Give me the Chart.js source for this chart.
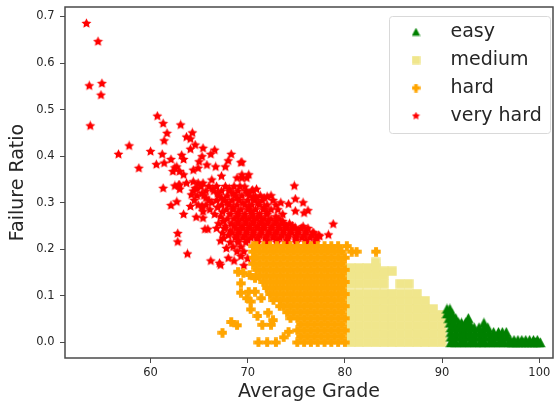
<!DOCTYPE html>
<html><head><meta charset="utf-8">
<style>html,body{margin:0;padding:0;background:#fff}#w{width:554px;height:405px}</style>
<script src="https://cdn.jsdelivr.net/npm/chart.js@4"></script></head>
<body><div id="w"><canvas id="c" width="554" height="405"></canvas></div>
<script>
const seriesNames = ['easy','medium','hard','very hard'];
const xTickValues = [60,70,80,90,100];
const yTickValues = [0,0.1,0.2,0.3,0.4,0.5,0.6,0.7];

const easyLevels = [0,0.005,0.012,0.022,0.032,0.042,0.052,0.062,0.072];
const easyGrades = [
 [90.9,91.4,91.9,92.4,92.9,93.4,93.9,94.4,94.9,95.4,95.9,96.4,96.9,97.2,97.5,97.8,98.1,98.4,98.7,99.0,99.3,99.6,99.9,100.1],
 [91.1,92.1,93.1,94.1,95.1,96.1,97.0,97.4,97.8,98.2,98.6,99.0,99.4,99.8],
 [90.9,91.4,91.9,92.4,92.9,93.4,93.9,94.4,94.9,95.4,95.8,96.2,96.7],
 [90.9,91.4,91.9,92.4,92.9,93.4,93.9,94.3,94.8,95.3,95.8,96.2,96.6],
 [90.9,91.3,91.7,92.1,92.5,92.9,93.3,93.8,94.3,94.7],
 [90.8,91.2,91.7,92.0,92.4,92.8,94.3],
 [90.7,91.1,91.4,92.7],
 [90.5,90.9,91.0],
 [90.5,90.8]
];
const mediumLevels = [0,0.018,0.036,0.054,0.06,0.072,0.09,0.105,0.126,0.144,0.153,0.16,0.172];
const mediumGrades = [
 [80.6,81.45,82.3,83.15,84,84.85,85.7,86.55,87.4,88.25,89.1,89.95],
 [80.6,81.45,82.3,83.15,84,84.85,85.7,86.55,87.4,88.25,89.1,89.95],
 [80.6,81.45,82.3,83.15,84,84.85,85.7,86.55,87.4,88.25,89.1,89.95],
 [80.6,81.45,82.3,83.15,84,84.85,85.7,86.55,87.4,88.25,89.1,89.95],
 [89.95],
 [80.6,81.45,82.3,83.15,84,84.85,85.7,86.55,87.4,88.25,89.1],
 [80.6,81.45,82.3,83.15,84,84.85,85.7,86.55,87.4,88.25],
 [80.6,81.45,82.3,83.15,84,84.85,85.7,86.55,87.4],
 [80.6,81.45,82.3,83.15,84,85.7,86.55],
 [80.6,81.45,82.3,83.15,84],
 [84,84.85],
 [80.6,81.45,82.3,83.15],
 [83.15]
];
const hardLevels = [0,0.011,0.013,0.021,0.023,0.026,0.037,0.038,0.039,0.044,0.048,0.052,0.057,0.064,0.065,0.071,0.078,0.088,0.091,0.095,0.104,0.107,0.109,0.117,0.127,0.13,0.138,0.143,0.145,0.149,0.152,0.156,0.169,0.182,0.195,0.207];
const hardGrades = [
 [71.1,72.0,72.9,75.1,75.8,76.5,77.2,77.9,78.6,79.3,80.0],
 [73.7],
 [75.45,76.15,76.85,77.55,78.25,78.95,79.65],
 [67.4],
 [74.2],
 [75.1,75.8,76.5,77.2,77.9,78.6,79.3,80.0],
 [68.9],
 [71.5,72.4],
 [75.45,76.15,76.85,77.55,78.25,78.95,79.65],
 [68.3],
 [72.6],
 [74.4,75.1,75.8,76.5,77.2,77.9,78.6,79.3,80.0],
 [71.0],
 [72.1],
 [74.05,74.75,75.45,76.15,76.85,77.55,78.25,78.95,79.65],
 [70.3],
 [73.3,73.7,74.4,75.1,75.8,76.5,77.2,77.9,78.6,79.3,80.0],
 [70.3],
 [72.65,73.35,74.05,74.75,75.45,76.15,76.85,77.55,78.25,78.95,79.65],
 [69.9,71.4],
 [72.3,73.0,73.7,74.4,75.1,75.8,76.5,77.2,77.9,78.6,79.3,80.0],
 [69.3],
 [70.1,70.75],
 [71.95,72.65,73.35,74.05,74.75,75.45,76.15,76.85,77.55,78.25,78.95,79.65],
 [69.3],
 [71.6,72.3,73.0,73.7,74.4,75.1,75.8,76.5,77.2,77.9,78.6,79.3,80.0],
 [70.75],
 [71.25,71.95,72.65,73.35,74.05,74.75,75.45,76.15,76.85,77.55,78.25,78.95,79.65],
 [70.2],
 [69.55],
 [69.0],
 [70.9,71.6,72.3,73.0,73.7,74.4,75.1,75.8,76.5,77.2,77.9,78.6,79.3,80.0],
 [70.55,71.25,71.95,72.65,73.35,74.05,74.75,75.45,76.15,76.85,77.55,78.25,78.95,79.65],
 [70.6,70.9,71.6,72.3,73.0,73.7,74.4,75.1,75.8,76.5,77.2,77.9,78.6,79.3,80.0],
 [70.55,71.25,71.95,72.65,73.35,74.05,74.75,75.45,76.15,76.85,77.55,78.25,78.95,79.65,80.7,81.2,83.2],
 [70.55,70.9,71.6,72.3,73.0,73.7,74.4,75.1,75.8,76.5,77.2,77.9,78.6,79.3,80.2]
];
const veryHardGrades = [53.4,54.6,53.7,55.0,54.9,53.8,56.7,57.8,58.8,60.0,60.7,61.3,63.1,61.7,61.4,64.3,63.7,64.1,64.6,64.1,65.4,61.2,60.6,61.4,62.1,63.2,63.4,66.6,66.2,68.3,68.0,67.7,69.3,65.3,65.0,64.9,64.4,65.8,66.7,62.7,63.0,63.4,62.5,62.3,67.3,61.3,62.9,68.9,69.4,69.9,64.9,66.3,63.7,65.4,64.4,62.5,63.0,63.0,62.7,62.1,63.4,62.8,62.8,63.8,66.2,67.2,64.7,65.4,65.9,65.6,67.2,67.5,67.8,68.0,67.1,64.1,65.4,65.3,64.2,64.6,
 69.4,70.1,69.4,74.8,74.9,75.7,74.2,74.9,76.2,75.8,73.4,72.0,70.9,70.5,70.8,69.7,78.8,78.3,77.4,76.7,75.7,74.9,74.0,69.6,70.0];
const veryHardRatios = [0.685,0.646,0.551,0.556,0.531,0.465,0.404,0.422,0.374,0.410,0.486,0.470,0.467,0.449,0.433,0.450,0.441,0.437,0.424,0.415,0.417,0.404,0.382,0.385,0.393,0.402,0.393,0.413,0.404,0.404,0.390,0.377,0.386,0.399,0.388,0.374,0.370,0.381,0.377,0.377,0.367,0.360,0.375,0.367,0.357,0.331,0.338,0.353,0.360,0.353,0.342,0.349,0.342,0.342,0.345,0.336,0.338,0.329,0.302,0.294,0.275,0.234,0.216,0.190,0.175,0.166,0.269,0.267,0.243,0.243,0.218,0.224,0.202,0.181,0.170,0.292,0.281,0.293,0.317,0.331,
 0.387,0.360,0.353,0.336,0.308,0.300,0.297,0.282,0.283,0.278,0.300,0.313,0.329,0.327,0.313,0.334,0.254,0.231,0.228,0.236,0.249,0.246,0.249,0.165,0.180];
const veryHardLevels = [0.335,0.33,0.325,0.32,0.315,0.31,0.305,0.30,0.295,0.29,0.285,0.28,0.275,0.27,0.265,0.26,0.255,0.25,0.245,0.24,0.235,0.23,0.225,0.22,0.215,0.205,0.195,0.185,0.175];
const veryHardRows = [
 [65.2,66.0,66.8,67.7,68.6,69.2],
 [64.8,66.4,68.1],
 [64.4,65.7,66.5,67.3,68.1,69.0,69.8,70.4],
 [65.3,66.9,68.5,70.0],
 [64.8,65.5,67.0,67.9,68.7,69.4,70.2,71.3,72.4],
 [65.7,67.3,68.9,70.6,71.7],
 [64.5,66.0,66.8,67.6,68.4,69.1,70.0,70.7,71.5,72.6],
 [66.3,67.9,69.5,71.1],
 [64.9,65.7,67.3,68.1,68.9,69.7,70.4,71.2,72.0,72.9],
 [65.3,66.9,68.5,70.1,71.7],
 [66.1,67.8,68.5,69.3,70.0,70.8,71.6,72.4,73.1],
 [67.4,69.0,70.4,72.0],
 [66.6,68.2,69.0,69.7,70.5,71.2,72.0,73.6],
 [67.2,68.9,69.7,70.5,71.3,72.9],
 [67.9,68.6,69.4,70.1,70.9,71.7,72.4,73.2],
 [67.5,69.0,69.8,70.6,71.4,72.1,72.9,73.6],
 [67.0,68.3,69.0,69.8,70.5,71.3,72.0,72.8,73.5,74.3],
 [67.7,68.6,69.4,70.2,71.0,71.7,72.5,73.2,73.9,74.6],
 [66.8,67.6,68.8,69.5,70.2,71.0,71.7,72.5,73.3,74.0,74.8,75.5,76.2],
 [68.2,69.1,69.9,70.6,71.4,72.2,73.0,73.7,74.4,75.2,76.0],
 [67.4,68.4,69.1,69.9,70.6,71.4,72.2,72.9,73.7,74.5,75.2,76.0,76.8],
 [68.0,68.9,69.7,70.5,71.2,72.0,72.7,73.5,74.2,75.0,75.8,76.6,77.3],
 [68.7,69.5,70.3,71.0,71.8,72.6,73.3,74.1,74.9,75.6,76.4,77.1],
 [69,70,71,72,73,74,75,76,77],
 [68.2,69.0,69.8,71.0,72.0,73.0,74.0,75.0,76.0,77.0],
 [68.5,69.3],
 [68.9,69.6],
 [69.3],
 [68.6]
];

function pointsFromRows(levels, rows){ return levels.flatMap((v,i)=>rows[i].map(x=>({x:x,y:v}))); }
function pointsFromPairs(xs, ys){ return xs.map((x,i)=>({x:x,y:ys[i]})); }

function marker(shape,color,size){
  const c=document.createElement('canvas'); c.width=c.height=size;
  const g=c.getContext('2d'); const m=size/2; const r=size/2-0.3;
  g.fillStyle=color; g.beginPath();
  if(shape==='tri'){ g.moveTo(m,m-r); g.lineTo(m+r,m+r*0.9); g.lineTo(m-r,m+r*0.9); }
  else if(shape==='sq'){ g.rect(m-r,m-r,2*r,2*r); }
  else if(shape==='plus'){ const a=r*0.42; const p=[[-a,-r],[a,-r],[a,-a],[r,-a],[r,a],[a,a],[a,r],[-a,r],[-a,a],[-r,a],[-r,-a],[-a,-a]];
    p.forEach((q,i)=>i?g.lineTo(m+q[0],m+q[1]):g.moveTo(m+q[0],m+q[1])); }
  else { for(let i=0;i<10;i++){ const R=i%2?r*0.5:r; const t=-Math.PI/2+i*Math.PI/5; const px=m+R*Math.cos(t),py=m+R*Math.sin(t); i?g.lineTo(px,py):g.moveTo(px,py);} }
  g.closePath(); g.fill(); return c;
}
const shapes=['tri','sq','plus','star'];
const colors=['green','#f0e68c','orange','red'];
const layering=[1,3,2,4];
const pointData=[pointsFromRows(easyLevels,easyGrades),pointsFromRows(mediumLevels,mediumGrades),pointsFromRows(hardLevels,hardGrades),pointsFromPairs(veryHardGrades,veryHardRatios).concat(pointsFromRows(veryHardLevels,veryHardRows))];
const plotStyles=shapes.map((s,i)=>marker(s,colors[i],[11,10,10,11][i]));
const legendStyles=shapes.map((s,i)=>marker(s,colors[i],9));

const ink='#262626', spine='#4a4a4a';
const font='"DejaVu Sans"';
const frame={id:'frame',
  afterLayout(ch){ const l=ch.legend; l.left=382; l.right=553; l.top=13.5; l.bottom=140; l.width=171; l.height=127; },
  afterDraw(ch){ const g=ch.ctx, a=ch.chartArea; g.save();
    g.strokeStyle=spine; g.lineWidth=1.5; g.strokeRect(a.left,a.top,a.right-a.left,a.bottom-a.top);
    g.strokeStyle='#d9d9d9'; g.lineWidth=1; g.beginPath(); g.roundRect(389.5,16.5,161,117,3); g.stroke(); g.restore(); }
};
function tickSet(vals){ return s=>{ s.ticks=vals.map(v=>({value:v})); }; }
function noPad(s){ s.paddingLeft=s.paddingRight=s.paddingTop=s.paddingBottom=0; }
new Chart(document.getElementById('c'),{type:'scatter',plugins:[frame],
 data:{datasets:seriesNames.map((n,i)=>({label:n,data:pointData[i],pointStyle:plotStyles[i],pointRadius:5,backgroundColor:colors[i],borderColor:colors[i],order:layering[i]}))},
 options:{responsive:false,animation:false,devicePixelRatio:1,
  layout:{autoPadding:false,padding:{top:7,right:1,left:0,bottom:0}},
  plugins:{tooltip:{enabled:false},
   legend:{position:'chartArea',align:'start',
    labels:{usePointStyle:true,pointStyleWidth:50,boxHeight:8,padding:9,color:ink,font:{family:font,size:19},
     sort:(a,b)=>a.datasetIndex-b.datasetIndex,
     generateLabels(ch){ return Chart.defaults.plugins.legend.labels.generateLabels(ch).map(it=>Object.assign(it,{pointStyle:legendStyles[it.datasetIndex]})); }}}},
  scales:{
   x:{type:'linear',min:51.2,max:101.41,afterBuildTicks:tickSet(xTickValues),afterFit(s){s.height=47;noPad(s);},
    border:{display:false},grid:{drawOnChartArea:false,tickLength:5,color:spine},
    ticks:{color:ink,font:{family:font,size:11.5},padding:3,maxRotation:0,callback:v=>String(v)},
    title:{display:true,text:'Average Grade',color:ink,font:{family:font,size:19},padding:{top:6,bottom:1.6}}},
   y:{type:'linear',min:-0.0333,max:0.7203,afterBuildTicks:tickSet(yTickValues),afterFit(s){s.width=65;noPad(s);},
    border:{display:false},grid:{drawOnChartArea:false,tickLength:5,color:spine},
    ticks:{color:ink,font:{family:font,size:11.5},padding:5.5,callback:v=>Number(v).toFixed(1)},
    title:{display:true,text:'Failure Ratio',color:ink,font:{family:font,size:19},padding:{top:7,bottom:6}}}
  }}});
</script></body></html>
